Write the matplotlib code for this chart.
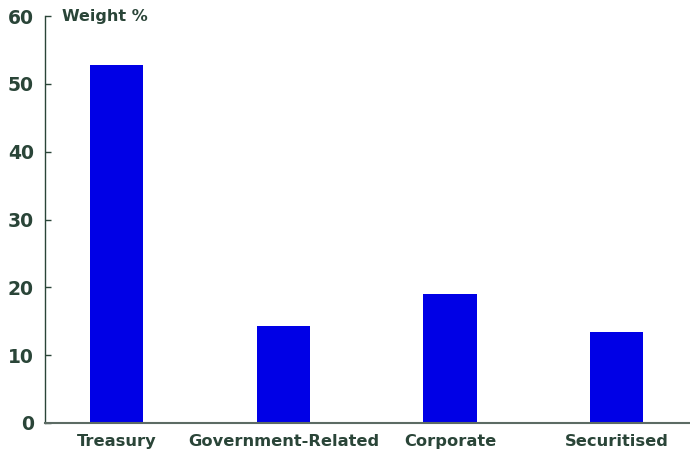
import matplotlib.pyplot as plt

categories = ["Treasury", "Government-Related", "Corporate", "Securitised"]
weights = [52.8, 14.3, 19.0, 13.4]
y_ticks = [0, 10, 20, 30, 40, 50, 60]

TEXT = "#2a4538"
BAR = "#0000e6"

plt.rcParams["font.family"] = ["DejaVu Sans"]

fig = plt.figure(figsize=(6.9, 4.55), dpi=100)
ax = fig.add_axes([45 / 690, 32 / 455, 645 / 690, 407 / 455])

x = range(len(categories))
ax.bar(x, weights, width=0.32, color=BAR, zorder=2)

ax.set_xlim(-0.43, 3.44)
ax.set_ylim(0, 60)
ax.set_yticks(y_ticks)
ax.set_xticks(list(x))
ax.set_xticklabels(categories)

for s in ["top", "right"]:
    ax.spines[s].set_visible(False)
ax.spines["left"].set_color(TEXT)
ax.spines["bottom"].set_color("#5c6b64")
ax.spines["left"].set_linewidth(1.0)
ax.spines["bottom"].set_linewidth(1.5)

ax.tick_params(axis="y", direction="in", length=4, width=1, color=TEXT,
               labelsize=13.5, labelcolor=TEXT, pad=8)
ax.tick_params(axis="x", length=0, labelsize=11.7, labelcolor=TEXT, pad=8)
for lab in ax.get_xticklabels() + ax.get_yticklabels():
    lab.set_fontweight("bold")

ax.text(0.026, 60, "Weight %", transform=ax.get_yaxis_transform(),
        ha="left", va="center", fontsize=11.5, fontweight="bold", color=TEXT)

fig.savefig("out.png", dpi=100)
